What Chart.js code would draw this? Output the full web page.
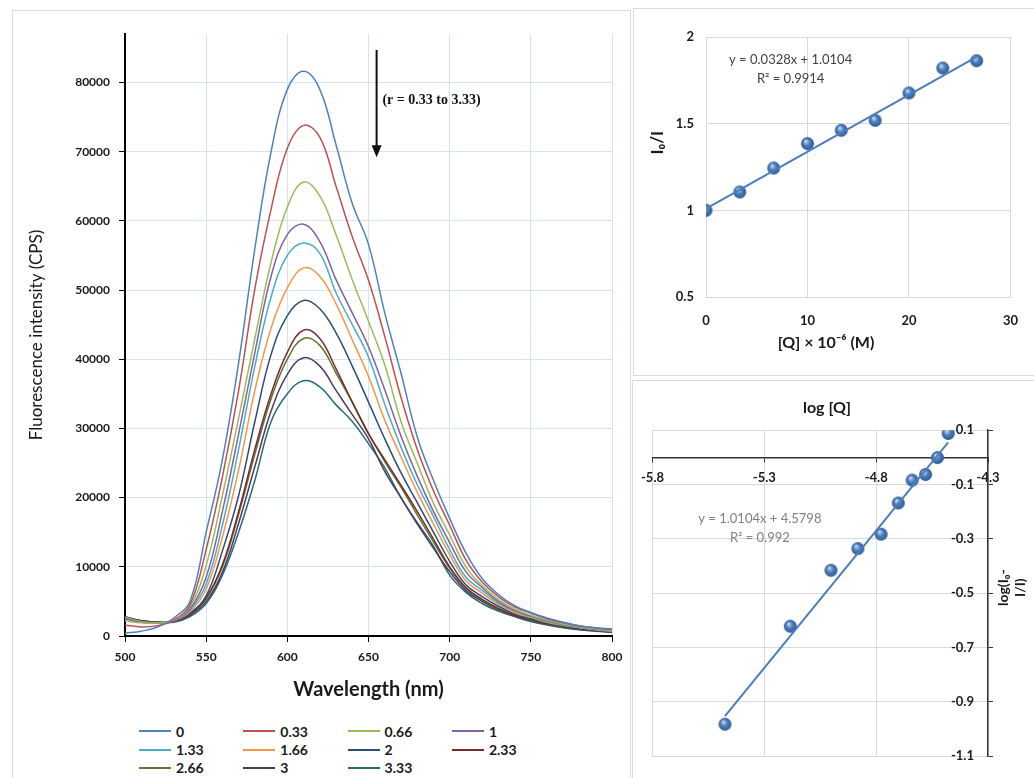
<!DOCTYPE html>
<html>
<head>
<meta charset="utf-8">
<script src="https://cdn.jsdelivr.net/npm/chart.js@4.4.1/dist/chart.umd.min.js"></script>
<style>
  body { margin: 0; background: #fff; width: 1034px; height: 778px; overflow: hidden; position: relative; font-family: Lato, "Liberation Sans", sans-serif; }
  .frame { position: absolute; border: 1px solid #d9d9d9; }
  canvas { position: absolute; }
  #legend { position: absolute; left: 139px; top: 722px; display: grid; grid-template-columns: repeat(4, 104.3px); }
  .item { display: flex; align-items: center; height: 18.4px; font: bold 14px Lato, sans-serif; color: #1a1a1a; }
  .swatch { width: 32px; height: 2px; margin-right: 5px; }
</style>
</head>
<body>
<div class="frame" style="left:12px; top:10px; width:617px; height:800px;"></div>
<div class="frame" style="left:633px; top:8px; width:420px; height:366px;"></div>
<div class="frame" style="left:632px; top:380px; width:420px; height:420px;"></div>

<canvas id="spectra" width="632" height="712" style="left:0; top:0;"></canvas>
<canvas id="stern" width="401" height="367" style="left:633px; top:8px;"></canvas>
<canvas id="logplot" width="402" height="398" style="left:632px; top:380px;"></canvas>
<div id="legend"></div>

<script>
// ---- Emission spectra ----
const wavelengths = [500, 510, 520, 530, 540, 550, 560, 570, 580, 590, 600, 610, 620, 630, 640, 650,
  660, 670, 680, 690, 700, 710, 720, 730, 740, 750, 760, 770, 780, 790, 800];
const ratios = ['0', '0.33', '0.66', '1', '1.33', '1.66', '2', '2.33', '2.66', '3', '3.33'];

const r0    = [400, 700, 1300, 2600, 5000, 15000, 25500, 39500, 56000, 70000, 79000, 81600, 79000, 71000, 62500, 56600,
  46700, 38000, 28800, 22500, 17000, 12000, 8300, 6000, 4400, 3400, 2600, 2000, 1500, 1200, 1000];
const r0_33 = [1600, 1300, 1500, 2300, 4500, 12500, 23000, 35500, 50200, 61700, 70500, 73800, 72100, 65000, 57700, 51400,
  43300, 34500, 27000, 21000, 16000, 11000, 7800, 5700, 4200, 3300, 2500, 1900, 1450, 1150, 950];
const r0_66 = [2200, 1900, 1900, 2300, 4200, 10200, 20300, 31500, 43000, 54000, 62000, 65600, 63600, 58000, 51500, 45500,
  39200, 31000, 25000, 19200, 14600, 10000, 7300, 5300, 3900, 3000, 2300, 1750, 1350, 1050, 850];
const r1    = [2500, 2000, 1900, 2200, 3900, 8500, 18000, 29200, 41000, 52000, 58000, 59500, 57000, 51500, 46700, 41800,
  35600, 28900, 23100, 18000, 13500, 9300, 7000, 5000, 3700, 2900, 2200, 1700, 1300, 1000, 800];
const r1_33 = [2600, 2000, 1900, 2200, 3700, 7500, 16000, 27000, 39000, 49000, 55000, 56800, 55300, 49600, 45000, 40300,
  33500, 27300, 21900, 17300, 12500, 8500, 6600, 4800, 3600, 2800, 2100, 1600, 1250, 950, 750];
const r1_66 = [2700, 2100, 1900, 2200, 3500, 6800, 14300, 24000, 35500, 44500, 50300, 53200, 52000, 48000, 42800, 37500,
  31200, 25900, 20800, 16200, 11800, 8000, 6200, 4600, 3400, 2700, 2000, 1550, 1200, 900, 700];
const r2    = [2800, 2100, 1900, 2100, 3300, 5800, 12300, 20300, 31000, 40700, 46300, 48500, 47300, 43800, 39000, 33800,
  28500, 23600, 19300, 15000, 10800, 7400, 5700, 4300, 3200, 2500, 1900, 1450, 1100, 850, 650];
const r2_33 = [2700, 2200, 2000, 2100, 3100, 5500, 10300, 18000, 27000, 35000, 41000, 44200, 43000, 38600, 33800, 29200,
  25500, 21800, 18000, 14000, 10000, 7000, 5300, 4000, 3000, 2400, 1800, 1350, 1050, 800, 600];
const r2_66 = [2500, 2100, 2000, 2100, 3100, 5400, 10000, 17600, 26300, 34300, 40000, 43000, 42000, 38000, 33800, 29300,
  25200, 21500, 17500, 13600, 9800, 6900, 5200, 3900, 3000, 2300, 1750, 1300, 1000, 780, 600];
const r3    = [2600, 2200, 2000, 2100, 3000, 5000, 9200, 16300, 24500, 32500, 37800, 40200, 39000, 35500, 32000, 28500,
  23800, 20000, 16200, 12700, 9300, 6600, 5000, 3800, 2900, 2200, 1700, 1250, 950, 750, 550];
const r3_33 = [2800, 2200, 2000, 2000, 2800, 4700, 8800, 15000, 22500, 31000, 35000, 36900, 36000, 33400, 31000, 27800,
  24300, 20000, 16400, 13000, 8800, 6300, 4700, 3600, 2800, 2100, 1600, 1200, 900, 700, 500];

const spectraTicksX = [500, 550, 600, 650, 700, 750, 800];
const spectraTicksY = [0, 10000, 20000, 30000, 40000, 50000, 60000, 70000, 80000];

// ---- Stern-Volmer plot ----
const svConc  = [0, 3.33, 6.67, 10, 13.33, 16.67, 20, 23.33, 26.67];
const svRatio = [1.0, 1.106, 1.244, 1.385, 1.462, 1.519, 1.677, 1.821, 1.863];
const svFit = [0.0328, 1.0104];          // slope, intercept
const svTicksX = [0, 10, 20, 30];
const svTicksY = [0.5, 1, 1.5, 2];

// ---- double log plot ----
const logQ     = [-5.476, -5.184, -5.002, -4.882, -4.778, -4.701, -4.639, -4.579, -4.526, -4.478];
const logRatio = [-0.983, -0.622, -0.416, -0.336, -0.283, -0.168, -0.084, -0.063, -0.001, 0.088];
const logFit = [1.0104, 4.5798];
const logTicksX = [-5.8, -5.3, -4.8, -4.3];
const logTicksY = [-1.1, -0.9, -0.7, -0.5, -0.3, -0.1, 0.1];

const series = [r0, r0_33, r0_66, r1, r1_33, r1_66, r2, r2_33, r2_66, r3, r3_33];
const curveColors = ['#4F81BD', '#C0504D', '#9BBB59', '#8064A2', '#4BACC6', '#F79646',
  '#2C4D75', '#772C2A', '#5F7530', '#4D3B62', '#276A7C'];

const FONT = 'Lato, "Liberation Sans", sans-serif';
const INK = '#1a1a1a';

function fixTicks(list) {
  return scale => { scale.ticks = list.map(v => ({ value: v })); };
}
const plain = v => String(v);

// blue sphere marker, like the Excel one
function makeBall(r) {
  const c = document.createElement('canvas');
  const s = r * 2 + 2;
  c.width = s; c.height = s;
  const g = c.getContext('2d');
  const grad = g.createRadialGradient(s * 0.38, s * 0.34, 0.5, s / 2, s / 2, r);
  grad.addColorStop(0, '#c4d7f2');
  grad.addColorStop(0.45, '#4f81bd');
  grad.addColorStop(1, '#2b5892');
  g.fillStyle = grad;
  g.beginPath();
  g.arc(s / 2, s / 2, r, 0, Math.PI * 2);
  g.fill();
  return c;
}
const ball = makeBall(6.5);

// Spectra chart
const arrowNote = {
  id: 'arrowNote',
  afterDatasetsDraw(chart) {
    const { ctx, scales: { x, y } } = chart;
    const ax = x.getPixelForValue(655);
    const top = y.getPixelForValue(84700);
    const tip = y.getPixelForValue(69200);
    ctx.save();
    ctx.strokeStyle = '#111';
    ctx.fillStyle = '#111';
    ctx.lineWidth = 2;
    ctx.beginPath();
    ctx.moveTo(ax, top);
    ctx.lineTo(ax, tip - 10);
    ctx.stroke();
    ctx.beginPath();
    ctx.moveTo(ax - 5, tip - 12);
    ctx.lineTo(ax + 5, tip - 12);
    ctx.lineTo(ax, tip);
    ctx.closePath();
    ctx.fill();
    ctx.font = 'bold 14px "Liberation Serif", serif';
    ctx.textBaseline = 'middle';
    ctx.fillText('(r = 0.33 to 3.33)', x.getPixelForValue(658.6), y.getPixelForValue(77450));
    ctx.restore();
  }
};

new Chart(document.getElementById('spectra'), {
  type: 'line',
  data: {
    datasets: series.map((vals, i) => ({
      label: ratios[i],
      data: vals.map((v, j) => ({ x: wavelengths[j], y: v })),
      borderColor: curveColors[i],
      borderWidth: 1.5,
      pointRadius: 0,
      tension: 0.4
    }))
  },
  options: {
    responsive: false,
    animation: false,
    layout: { padding: { top: 34, right: 20, left: 0, bottom: 0 } },
    plugins: { legend: { display: false }, tooltip: { enabled: false } },
    scales: {
      x: {
        type: 'linear', min: 500, max: 800,
        afterBuildTicks: fixTicks(spectraTicksX),
        afterFit: s => { s.height = 76; },
        grid: { color: '#d5e2f3', tickColor: '#000', tickLength: 6 },
        border: { color: '#000', width: 2 },
        ticks: { color: INK, padding: 8, maxRotation: 0, callback: plain, font: { family: FONT, size: 12, weight: 'bold' } },
        title: { display: true, text: 'Wavelength (nm)', color: INK, padding: { top: 0, bottom: 10 },
          font: { family: FONT, size: 20, weight: 'bold' } }
      },
      y: {
        min: 0, max: 87000,
        afterBuildTicks: fixTicks(spectraTicksY),
        afterFit: s => { s.width = 125; },
        grid: { color: '#d5e2f3', tickColor: '#000', tickLength: 6 },
        border: { color: '#000', width: 2 },
        ticks: { color: INK, padding: 9, callback: plain, font: { family: FONT, size: 12, weight: 'bold' } },
        title: { display: true, text: 'Fluorescence intensity (CPS)', color: INK, padding: { top: 26, bottom: 0 },
          font: { family: FONT, size: 17 } }
      }
    }
  },
  plugins: [arrowNote]
});

// legend
const legend = document.getElementById('legend');
ratios.forEach((r, i) => {
  const item = document.createElement('div');
  item.className = 'item';
  item.innerHTML = '<span class="swatch" style="background:' + curveColors[i] + '"></span>' + r;
  legend.appendChild(item);
});

// text drawn at data positions (fit equations, rotated titles)
function notesPlugin(id, notes) {
  return {
    id: id,
    afterDraw(chart) {
      const { ctx, scales: { x, y } } = chart;
      notes.forEach(n => {
        ctx.save();
        ctx.font = n.font;
        ctx.fillStyle = n.color;
        ctx.textAlign = 'center';
        ctx.textBaseline = 'middle';
        ctx.translate(n.px !== undefined ? n.px(chart) : x.getPixelForValue(n.x), y.getPixelForValue(n.y));
        if (n.rotate) ctx.rotate(n.rotate);
        n.lines.forEach((t, k) => ctx.fillText(t, 0, k * n.lh));
        ctx.restore();
      });
    }
  };
}

// Stern-Volmer chart
const svEnds = [svConc[0], svConc[svConc.length - 1]];
new Chart(document.getElementById('stern'), {
  type: 'scatter',
  data: {
    datasets: [{
      data: svEnds.map(c => ({ x: c, y: svFit[0] * c + svFit[1] })),
      showLine: true, borderColor: '#4a7ebb', borderWidth: 2, pointRadius: 0
    }, {
      data: svConc.map((c, i) => ({ x: c, y: svRatio[i] })),
      pointStyle: ball, pointRadius: 6.5
    }]
  },
  options: {
    responsive: false,
    animation: false,
    layout: { padding: { top: 29, right: 15, left: 0, bottom: 0 } },
    plugins: {
      legend: { display: false }, tooltip: { enabled: false },
      title: { display: true, position: 'bottom', text: '[Q] × 10⁻⁶ (M)', color: INK,
        padding: { top: 0, bottom: 22.4 }, font: { family: FONT, size: 16, weight: 'bold' } }
    },
    scales: {
      x: {
        type: 'linear', min: 0, max: 30,
        afterBuildTicks: fixTicks(svTicksX),
        afterFit: s => { s.height = 36.4; },
        grid: { color: '#d9d9d9', drawTicks: false },
        border: { color: '#d9d9d9' },
        ticks: { color: INK, padding: 16, callback: plain, font: { family: FONT, size: 13, weight: 'bold' } }
      },
      y: {
        min: 0.5, max: 2,
        afterBuildTicks: fixTicks(svTicksY),
        afterFit: s => { s.width = 73; },
        grid: { color: '#d9d9d9', drawTicks: false },
        border: { color: '#d9d9d9' },
        ticks: { color: INK, padding: 12, callback: plain, font: { family: FONT, size: 13, weight: 'bold' } }
      }
    }
  },
  plugins: [notesPlugin('svNotes', [
    { x: 8.34, y: 1.867, lines: ['y = 0.0328x + 1.0104', 'R² = 0.9914'], lh: 19, font: '13px ' + FONT, color: '#404040' },
    { px: c => 25, y: 1.39, lines: ['I₀/I'], lh: 0, rotate: -Math.PI / 2, font: 'bold 17px ' + FONT, color: INK }
  ])]
});

// double log chart
const logEnds = [logQ[0], logQ[logQ.length - 1]];
new Chart(document.getElementById('logplot'), {
  type: 'scatter',
  data: {
    datasets: [{
      data: logEnds.map(q => ({ x: q, y: logFit[0] * q + logFit[1] })),
      showLine: true, borderColor: '#4a7ebb', borderWidth: 2, pointRadius: 0
    }, {
      data: logQ.map((q, i) => ({ x: q, y: logRatio[i] })),
      pointStyle: ball, pointRadius: 6.5
    }]
  },
  options: {
    responsive: false,
    animation: false,
    layout: { padding: { top: 0, right: 32, left: 20, bottom: 22 } },
    plugins: {
      legend: { display: false }, tooltip: { enabled: false },
      title: { display: true, text: 'log [Q]', color: INK, padding: { top: 18, bottom: 13 },
        font: { family: FONT, size: 16, weight: 'bold' } }
    },
    scales: {
      x: {
        type: 'linear', min: -5.8, max: -4.3, position: { y: 0 },
        afterBuildTicks: fixTicks(logTicksX),
        grid: { color: '#d9d9d9', tickColor: '#333', tickLength: 4 },
        border: { color: '#333', width: 1.5 },
        ticks: { color: INK, padding: 9, callback: v => v.toFixed(1), font: { family: FONT, size: 13, weight: 'bold' } }
      },
      y: {
        min: -1.1, max: 0.1, position: 'right',
        afterBuildTicks: fixTicks(logTicksY),
        afterFit: s => { s.width = 14; },
        grid: { color: '#d9d9d9', tickColor: '#333', tickLength: 5 },
        border: { color: '#333', width: 1.5 },
        ticks: { color: INK, mirror: true, padding: -14, callback: v => v.toFixed(1),
          font: { family: FONT, size: 13, weight: 'bold' } }
      }
    }
  },
  plugins: [notesPlugin('logNotes', [
    { x: -5.32, y: -0.228, lines: ['y = 1.0104x + 4.5798', 'R² = 0.992'], lh: 19, font: '13px ' + FONT, color: '#808080' },
    { px: c => c.chartArea.right + 15, y: -0.48, lines: ['log(I₀-', 'I/I)'], lh: 17, rotate: -Math.PI / 2,
      font: 'bold 14px ' + FONT, color: INK }
  ])]
});
</script>
</body>
</html>
